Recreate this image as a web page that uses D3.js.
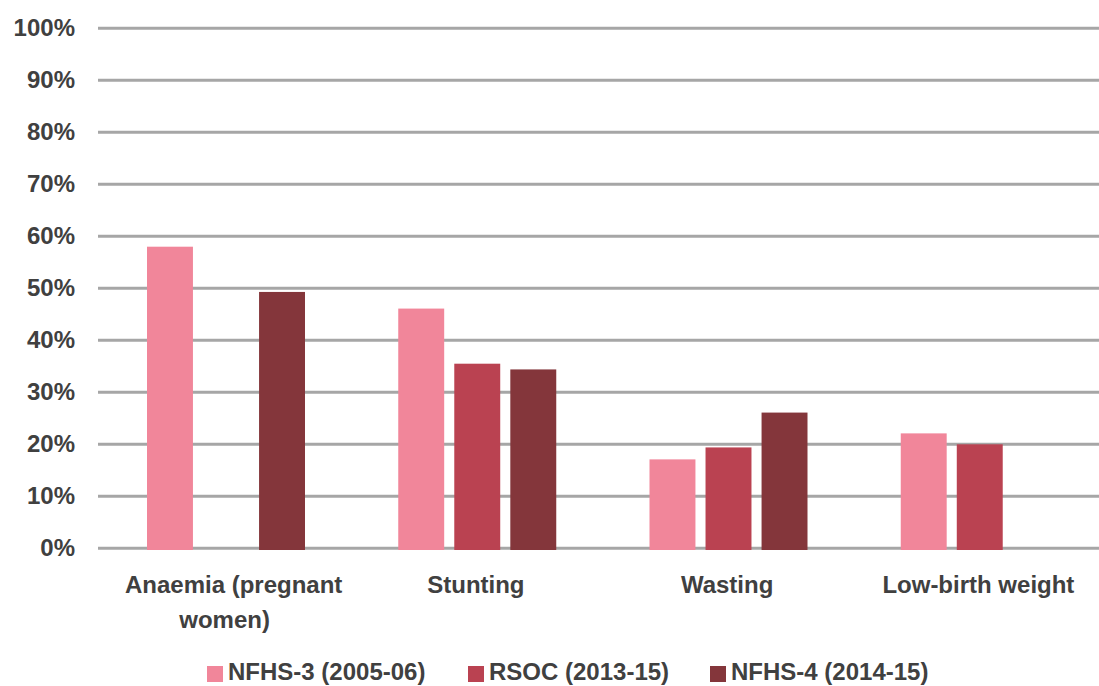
<!DOCTYPE html>
<meta charset="utf-8">
<style>

body {
  margin: 0;
  background: #fff;
}

text {
  font-family: "Liberation Sans", Arial, sans-serif;
  font-weight: bold;
  font-size: 24px;
  fill: #404040;
}

.grid line {
  stroke: #a6a6a6;
  stroke-width: 3px;
}

</style>
<svg width="1099" height="686"></svg>
<script src="https://d3js.org/d3.v7.min.js"></script>
<script>

// values, as fractions
var categories = ["Anaemia (pregnant women)", "Stunting", "Wasting", "Low-birth weight"];
var categoryLines = [["Anaemia (pregnant", "women)"], ["Stunting"], ["Wasting"], ["Low-birth weight"]];
var seriesNames = ["NFHS-3 (2005-06)", "RSOC (2013-15)", "NFHS-4 (2014-15)"];
var seriesColours = ["#f1869a", "#ba4251", "#84363b"];
var nfhs3 = [0.58, 0.461, 0.171, 0.221];
var rsoc = [null, 0.355, 0.194, 0.20];
var nfhs4 = [0.493, 0.344, 0.261, null];
var yTicks = [0, 0.1, 0.2, 0.3, 0.4, 0.5, 0.6, 0.7, 0.8, 0.9, 1.0];

var svg = d3.select("svg"),
    width = +svg.attr("width"),
    height = +svg.attr("height");

var seriesValues = [nfhs3, rsoc, nfhs4];

var x0 = d3.scaleBand()
    .domain(categories)
    .range([99, 1104])
    .padding(0);

var x1 = d3.scaleBand()
    .domain(seriesNames)
    .range([48, 206])
    .paddingInner(0.18)
    .paddingOuter(0);

var y = d3.scaleLinear()
    .domain([0, 1])
    .range([548.3, 28.3]);

// gridlines
svg.append("g")
   .attr("class", "grid")
   .selectAll("line")
   .data(yTicks)
   .enter().append("line")
   .attr("x1", 98)
   .attr("x2", width)
   .attr("y1", d => y(d))
   .attr("y2", d => y(d));

// y axis labels
var yAxis = d3.axisLeft(y)
    .tickValues(yTicks)
    .tickFormat(d3.format(".0%"))
    .tickSize(0)
    .tickPadding(0);

var yg = svg.append("g")
   .attr("transform", "translate(75,0)")
   .call(yAxis);
yg.select(".domain").remove();
yg.selectAll("text")
  .attr("fill", "#404040")
  .attr("font-family", null)
  .attr("font-size", null)
  .attr("dy", "0.3em");

// bars
var rows = [];
categories.forEach(function(c, i) {
  seriesNames.forEach(function(s, j) {
    if (seriesValues[j][i] != null) rows.push({cat: c, series: s, idx: j, value: seriesValues[j][i]});
  });
});

svg.append("g")
   .selectAll("rect")
   .data(rows)
   .enter().append("rect")
   .attr("x", d => x0(d.cat) + x1(d.series))
   .attr("y", d => y(d.value))
   .attr("width", x1.bandwidth())
   .attr("height", d => y(0) + 1.7 - y(d.value))
   .attr("fill", d => seriesColours[d.idx]);

// category labels
var cats = svg.append("g")
   .selectAll("text")
   .data(categories)
   .enter().append("text")
   .attr("text-anchor", "middle")
   .attr("x", d => x0(d) + x0.bandwidth() / 2)
   .attr("y", 593);

cats.each(function(d, i) {
  var t = d3.select(this);
  categoryLines[i].forEach(function(line, k) {
    t.append("tspan")
     .attr("x", x0(d) + x0.bandwidth() / 2 + (k == 0 && categoryLines[i].length > 1 ? 9 : 0))
     .attr("dy", k == 0 ? 0 : 35)
     .text(line);
  });
});

// legend
var legendX = [207, 468, 710];

var legend = svg.append("g")
   .selectAll("g")
   .data(seriesNames)
   .enter().append("g")
   .attr("transform", (d, i) => "translate(" + legendX[i] + ",666)");

legend.append("rect")
   .attr("width", 16)
   .attr("height", 16)
   .attr("fill", (d, i) => seriesColours[i]);

legend.append("text")
   .attr("x", 21)
   .attr("y", 14)
   .text(d => d);

</script>
